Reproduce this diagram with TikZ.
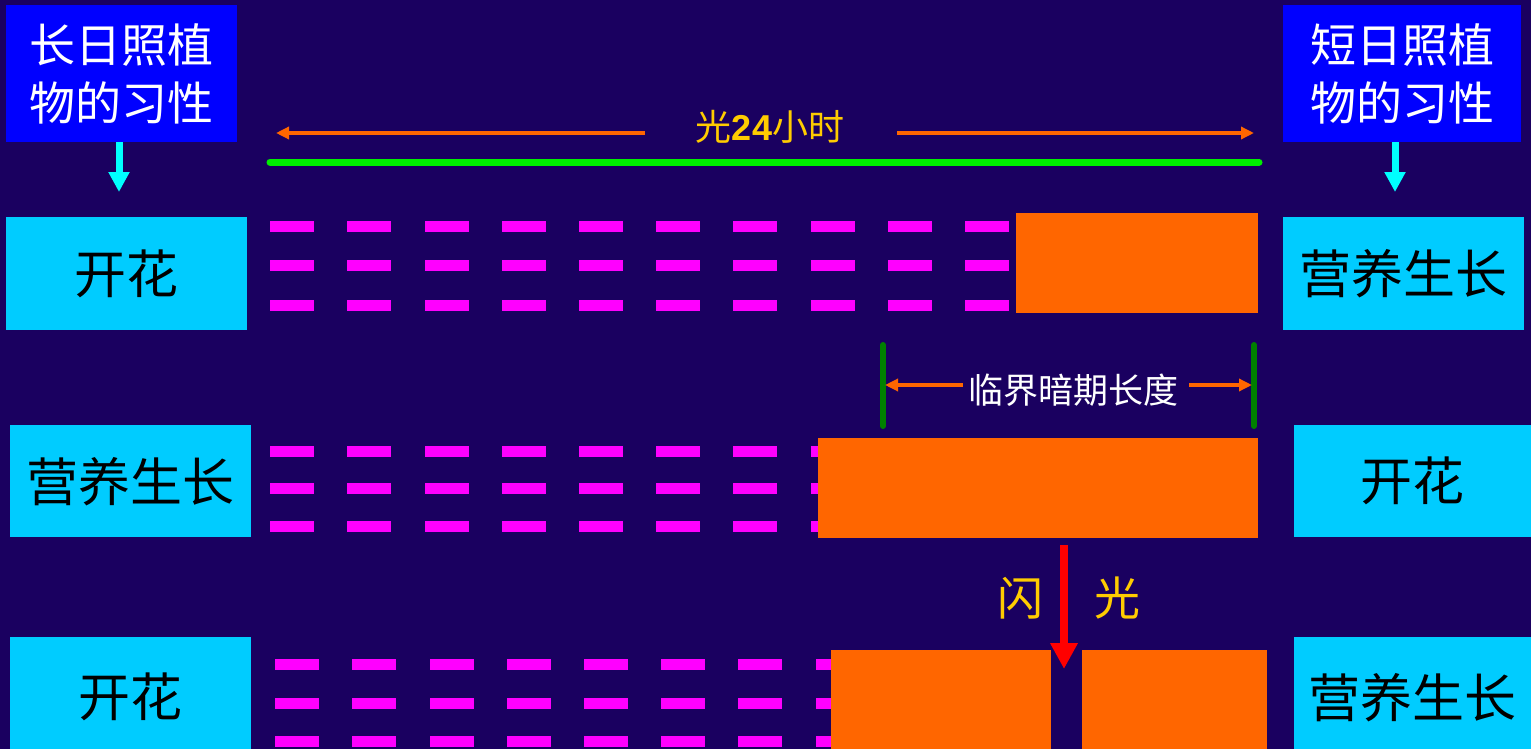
\documentclass[tikz,border=0pt]{standalone}
\usepackage{fontspec}
\newfontfamily\cjk{Noto Sans CJK SC}
\newfontfamily\lsans{Liberation Sans}
\usetikzlibrary{arrows.meta}
\definecolor{bg}{RGB}{26,0,96}
\definecolor{hboxc}{RGB}{0,0,255}
\definecolor{gboxc}{RGB}{0,204,255}
\definecolor{dashc}{RGB}{255,0,255}
\definecolor{orangec}{RGB}{255,102,0}
\definecolor{goldc}{RGB}{255,204,0}
\definecolor{lgreen}{RGB}{0,238,0}
\definecolor{dgreen}{RGB}{0,128,0}
\definecolor{cyanar}{RGB}{0,255,255}
\definecolor{redar}{RGB}{255,0,0}
\tikzset{
  headbox/.style={fill=hboxc, text=white, inner sep=0pt, anchor=north west, align=center,
    minimum width=#1, minimum height=137pt, font=\cjk\fontsize{46}{58}\selectfont},
  stagebox/.style={fill=gboxc, text=black, inner sep=0pt, anchor=north west, align=center,
    font=\cjk\fontsize{52}{60}\selectfont},
  downarrow/.style={cyanar, line width=7pt, -{Triangle[width=20pt,length=20pt]}},
  spanarrow/.style={orangec, line width=4pt, -{Triangle[width=12pt,length=13pt]}},
  darkbar/.style={fill=orangec},
  dashbar/.style={fill=dashc},
  goldtext/.style={text=goldc, inner sep=0pt},
}
\begin{document}
\begin{tikzpicture}[x=1pt,y=-1pt]
\useasboundingbox (0,0) rectangle (1531,749);
\fill[bg] (0,0) rectangle (1531,749);

% header boxes
\node[headbox=231pt] (lh) at (6,5) {长日照植\\物的习性};
\node[headbox=238pt] (rh) at (1283,5) {短日照植\\物的习性};
\coordinate (la) at (119,192);
\coordinate (ra) at (1395,192);
\draw[downarrow] (lh.south -| la) -- (la);
\draw[downarrow] (rh.south -| ra) -- (ra);

% 24 h light
\node[goldtext, font=\cjk\fontsize{36}{40}\selectfont] (light) at (770,127) {光{\lsans\bfseries 24}小时};
\coordinate (l1) at (645,133);
\coordinate (l2) at (276,133);
\coordinate (r1) at (897,133);
\coordinate (r2) at (1254,133);
\draw[spanarrow] (l1) -- (l2);
\draw[spanarrow] (r1) -- (r2);
\coordinate (g1) at (270,162);
\coordinate (g2) at (1259,162);
\draw[lgreen, line width=7pt, line cap=round] (g1) -- (g2);

% row 1
\foreach \x in {270,347,425,502,579,656,733,811,888,965}
  \foreach \y in {221,260,300}
    \fill[dashbar] (\x,\y) rectangle ++(44,11);
\fill[darkbar] (1016,213) rectangle (1258,313);
\node[stagebox, minimum width=241pt, minimum height=113pt] (b1l) at (6,217) {开花};
\node[stagebox, minimum width=241pt, minimum height=113pt] (b1r) at (1283,217) {营养生长};

% critical dark period
\coordinate (v1a) at (883,345);
\coordinate (v1b) at (883,426);
\coordinate (v2a) at (1254,345);
\coordinate (v2b) at (1254,426);
\draw[dgreen, line width=6pt, line cap=round] (v1a) -- (v1b);
\draw[dgreen, line width=6pt, line cap=round] (v2a) -- (v2b);
\node[text=white, inner sep=0pt, font=\cjk\fontsize{35}{40}\selectfont] (crit) at (1073,390) {临界暗期长度};
\coordinate (c1) at (963,385);
\coordinate (c2) at (885,385);
\coordinate (c3) at (1189,385);
\coordinate (c4) at (1252,385);
\draw[spanarrow] (c1) -- (c2);
\draw[spanarrow] (c3) -- (c4);

% row 2
\foreach \x in {270,347,425,502,579,656,733,811}
  \foreach \y in {446,483,521}
    \fill[dashbar] (\x,\y) rectangle ++(44,11);
\fill[darkbar] (818,438) rectangle (1258,538);
\node[stagebox, minimum width=241pt, minimum height=112pt] (b2l) at (10,425) {营养生长};
\node[stagebox, minimum width=237pt, minimum height=112pt] (b2r) at (1294,425) {开花};

% row 3
\foreach \x in {275,352,430,507,584,661,738,816}
  \foreach \y in {659,698,736}
    \fill[dashbar] (\x,\y) rectangle ++(44,11);
\fill[darkbar] (831,650) rectangle (1051,749);
\fill[darkbar] (1082,650) rectangle (1267,749);
\node[stagebox, minimum width=241pt, minimum height=120pt] (b3l) at (10,637) {开花};
\node[stagebox, minimum width=237pt, minimum height=120pt] (b3r) at (1294,637) {营养生长};

% flash
\coordinate (f1) at (1064,545);
\coordinate (f2) at (1064,669);
\draw[redar, line width=8pt, -{Triangle[width=26pt,length=26pt]}] (f1) -- (f2);
\node[goldtext, font=\cjk\fontsize{46}{50}\selectfont] (flash1) at (1020,598) {闪};
\node[goldtext, font=\cjk\fontsize{46}{50}\selectfont] (flash2) at (1117,598) {光};
\end{tikzpicture}
\end{document}
